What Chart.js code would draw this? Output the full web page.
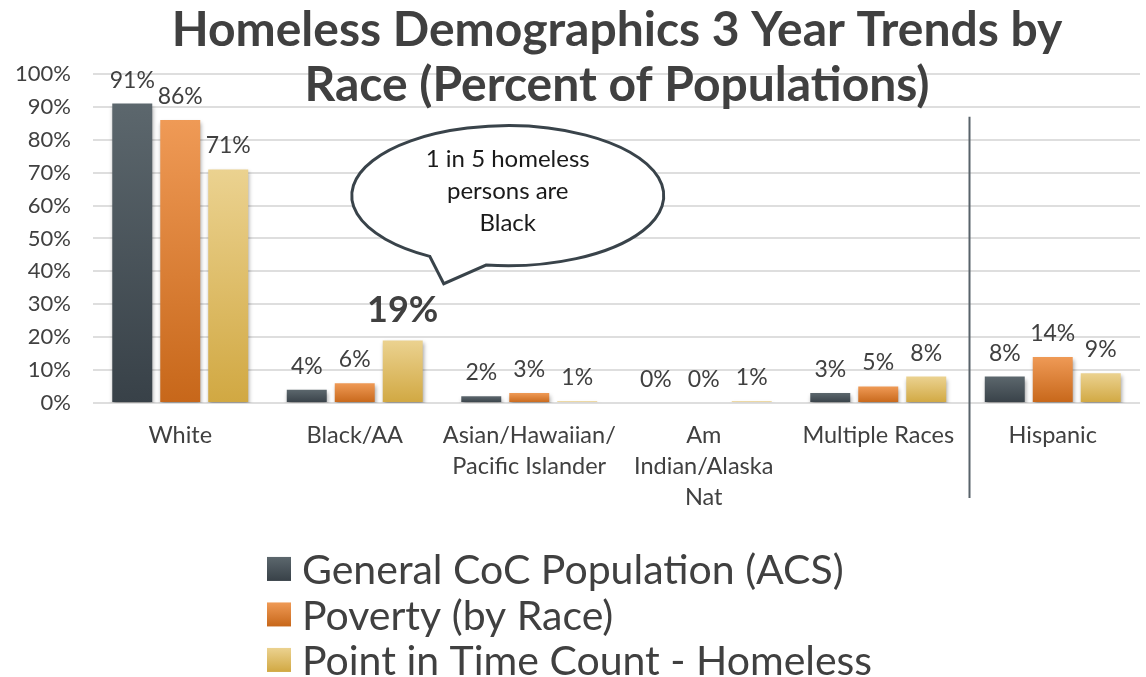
<!DOCTYPE html>
<html>
<head>
<meta charset="utf-8">
<script src="https://cdn.jsdelivr.net/npm/chart.js@4/dist/chart.umd.min.js"></script>
<style>
  html, body { margin: 0; padding: 0; background: #fff; }
  canvas { display: block; }
</style>
</head>
<body>
<canvas id="chart" width="1146" height="677"></canvas>
<script>
// ---- data ----
const categories = ['White', 'Black/AA', ['Asian/Hawaiian/', 'Pacific Islander'], ['Am', 'Indian/Alaska', 'Nat'], 'Multiple Races', 'Hispanic'];
const seriesNames = ['General CoC Population (ACS)', 'Poverty (by Race)', 'Point in Time Count - Homeless'];
const generalPop = [91, 4, 2, 0, 3, 8];
const poverty = [86, 6, 3, 0, 5, 14];
const pitCount = [71, 19, 0.5, 0.5, 8, 9];
const yTicks = [0, 10, 20, 30, 40, 50, 60, 70, 80, 90, 100];
const titleLines = ['Homeless Demographics 3 Year Trends by', 'Race (Percent of Populations)'];
const calloutLines = ['1 in 5 homeless', 'persons are', 'Black'];
const highlight = { dataset: 2, index: 1 };   // the bold 19%

const FONT = 'Lato, "Open Sans", sans-serif';
const TEXT = '#404040';
// top / bottom colours of each series gradient
const palette = [
  ['#5c676d', '#384148'],
  ['#ef9a56', '#c7671a'],
  ['#ebd290', '#d1a842']
];

function barGradient(idx) {
  return (c) => {
    const chart = c.chart;
    if (!chart.chartArea || c.raw === undefined) return palette[idx][1];
    const y = chart.scales.y;
    const top = y.getPixelForValue(c.raw);
    const bottom = y.getPixelForValue(0);
    if (bottom - top < 1) return palette[idx][1];
    const g = chart.ctx.createLinearGradient(0, top, 0, bottom);
    g.addColorStop(0, palette[idx][0]);
    g.addColorStop(1, palette[idx][1]);
    return g;
  };
}

const decor = {
  id: 'decor',
  beforeDatasetsDraw(chart) {
    const ctx = chart.ctx;
    ctx.save();
    ctx.shadowColor = 'rgba(0,0,0,0.35)';
    ctx.shadowBlur = 4;
    ctx.shadowOffsetX = 1;
    ctx.shadowOffsetY = 3;
  },
  afterDatasetsDraw(chart) {
    const ctx = chart.ctx;
    ctx.restore();
    // value labels
    ctx.save();
    ctx.fillStyle = TEXT;
    ctx.textAlign = 'center';
    ctx.textBaseline = 'alphabetic';
    chart.data.datasets.forEach((ds, di) => {
      chart.getDatasetMeta(di).data.forEach((bar, i) => {
        const big = di === highlight.dataset && i === highlight.index;
        ctx.font = big ? `bold 36px ${FONT}` : `23px ${FONT}`;
        ctx.fillText(Math.round(ds.data[i]) + '%', bar.x, bar.y - (big ? 18 : 16));
      });
    });
    ctx.restore();
  },
  afterDraw(chart) {
    const ctx = chart.ctx;
    const x = chart.scales.x, y = chart.scales.y;
    const area = chart.chartArea;
    ctx.save();

    // title
    ctx.fillStyle = TEXT;
    ctx.textAlign = 'center';
    ctx.textBaseline = 'middle';
    ctx.font = `bold 48px ${FONT}`;
    ctx.fillText(titleLines[0], 617, 31);
    ctx.fillText(titleLines[1], 617, 86);

    // divider before Hispanic
    const dx = (x.getPixelForValue(4) + x.getPixelForValue(5)) / 2 + 4;
    ctx.strokeStyle = '#59636a';
    ctx.lineWidth = 2;
    ctx.beginPath();
    ctx.moveTo(dx, y.getPixelForValue(87));
    ctx.lineTo(dx, area.bottom + 95);
    ctx.stroke();

    // speech bubble
    const cx = x.getPixelForValue(1) + 153;
    const cy = y.getPixelForValue(63);
    const rx = 156, ry = 70;
    const a1 = 120 * Math.PI / 180, a2 = 98 * Math.PI / 180;
    ctx.beginPath();
    ctx.ellipse(cx, cy, rx, ry, 0, a1, a2 + Math.PI * 2, false);
    ctx.lineTo(cx - 64, cy + 88);
    ctx.closePath();
    ctx.fillStyle = '#fff';
    ctx.fill();
    ctx.strokeStyle = '#39434a';
    ctx.lineWidth = 3;
    ctx.stroke();
    ctx.fillStyle = '#1a1a1a';
    ctx.font = `24px ${FONT}`;
    calloutLines.forEach((t, i) => ctx.fillText(t, cx, cy - 36 + i * 32));

    // legend
    const lx = 267, ly = area.bottom + 166, rowH = 45.5, sq = 24;
    ctx.textAlign = 'left';
    ctx.font = `41px ${FONT}`;
    seriesNames.forEach((name, i) => {
      const cyRow = ly + i * rowH;
      const g = ctx.createLinearGradient(0, cyRow - sq / 2, 0, cyRow + sq / 2);
      g.addColorStop(0, palette[i][0]);
      g.addColorStop(1, palette[i][1]);
      ctx.fillStyle = g;
      ctx.fillRect(lx, cyRow - sq / 2, sq, sq);
      ctx.fillStyle = TEXT;
      ctx.fillText(name, lx + 35, cyRow + 2);
    });
    ctx.restore();
  }
};

new Chart(document.getElementById('chart'), {
  type: 'bar',
  data: {
    labels: categories,
    datasets: [generalPop, poverty, pitCount].map((d, i) => ({
      label: seriesNames[i],
      data: d,
      backgroundColor: barGradient(i),
      borderWidth: 0,
      categoryPercentage: 0.825,
      barPercentage: 0.833
    }))
  },
  options: {
    responsive: false,
    animation: false,
    devicePixelRatio: 1,
    layout: { padding: { top: 74, left: 12, right: 6, bottom: 155 } },
    plugins: {
      legend: { display: false },
      title: { display: false },
      tooltip: { enabled: false }
    },
    scales: {
      x: {
        grid: { display: false },
        border: { display: false },
        ticks: {
          color: TEXT,
          font: { family: FONT, size: 23.5, lineHeight: 1.32 },
          padding: 9,
          maxRotation: 0,
          autoSkip: false
        }
      },
      y: {
        min: 0,
        max: 100,
        afterBuildTicks: (s) => { s.ticks = yTicks.map(v => ({ value: v })); },
        afterFit: (s) => { s.width = 81; },
        ticks: {
          color: TEXT,
          font: { family: FONT, size: 22 },
          padding: 22,
          callback: (v) => v + '%'
        },
        grid: { color: '#dedede', lineWidth: 2, drawTicks: false },
        border: { display: false }
      }
    }
  },
  plugins: [decor]
});
</script>
</body>
</html>
